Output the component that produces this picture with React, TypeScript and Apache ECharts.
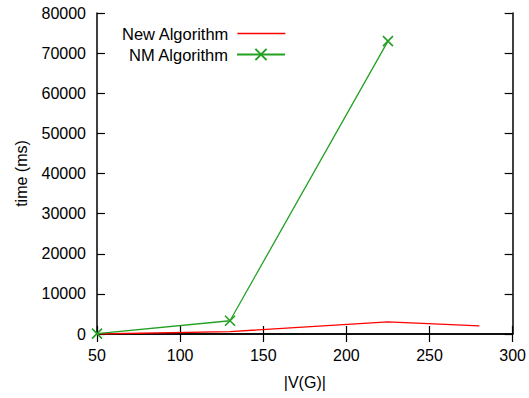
import React, { useEffect, useRef } from "react";
import * as echarts from "echarts";

const newAlgoX = [50, 130, 225, 280];
const newAlgoY = [0, 600, 3000, 2000];
const nmAlgoX = [50, 130, 225];
const nmAlgoY = [100, 3300, 73000];
const seriesNames = ["New Algorithm", "NM Algorithm"];
const xTicks = { min: 50, max: 300, interval: 50 };
const yTicks = { min: 0, max: 80000, interval: 10000 };

const FONT = "'Liberation Sans', Arial, sans-serif";
const RED = "#ff0000";
const GREEN = "#22a022";

export default function App() {
  const ref = useRef<HTMLDivElement>(null);
  useEffect(() => {
    if (!ref.current) return;
    const chart = echarts.init(ref.current, null, { renderer: "svg" });
    const axisLine = { show: true, lineStyle: { color: "#000", width: 1.5 } };
    const tick = { show: true, inside: true, length: 8, lineStyle: { color: "#000", width: 1.2 } };
    const label = { color: "#000", fontSize: 16, fontFamily: FONT };
    const cross = "path://M0,0L10,10M10,0L0,10";
    chart.setOption({
      animation: false,
      backgroundColor: "#fff",
      textStyle: { fontFamily: FONT },
      grid: { left: 97, right: 12, top: 13, bottom: 64, containLabel: false },
      legend: [
        {
          data: [seriesNames[0]],
          orient: "vertical",
          align: "right",
          right: 243,
          top: 25,
          padding: 0,
          itemWidth: 48,
          itemHeight: 14,
          itemStyle: { color: "rgba(0,0,0,0)", borderColor: "rgba(0,0,0,0)", borderWidth: 0 },
          lineStyle: { color: RED, width: 1.3 },
          textStyle: { ...label, fontSize: 16.5, padding: [0, 4, 0, 0] },
          selectedMode: false,
        },
        {
          data: [seriesNames[1]],
          orient: "vertical",
          align: "right",
          right: 243,
          top: 46,
          padding: 0,
          itemWidth: 48,
          itemHeight: 14,
          textStyle: { ...label, fontSize: 16.5, padding: [0, 4, 0, 0] },
          selectedMode: false,
        },
      ],
      xAxis: [
        {
          type: "value",
          ...xTicks,
          position: "bottom",
          name: "|V(G)|",
          nameLocation: "middle",
          nameGap: 40,
          nameTextStyle: { ...label },
          axisLine,
          axisTick: tick,
          axisLabel: { ...label, margin: 13 },
          splitLine: { show: false },
        },
        {
          type: "value",
          ...xTicks,
          position: "top",
          axisLine,
          axisTick: tick,
          axisLabel: { show: false },
          splitLine: { show: false },
        },
      ],
      yAxis: [
        {
          type: "value",
          ...yTicks,
          position: "left",
          name: "time (ms)",
          nameLocation: "middle",
          nameGap: 68,
          nameRotate: 90,
          nameTextStyle: { ...label },
          axisLine,
          axisTick: tick,
          axisLabel: { ...label, margin: 11, formatter: (v: number) => String(v) },
          splitLine: { show: false },
        },
        {
          type: "value",
          ...yTicks,
          position: "right",
          axisLine,
          axisTick: tick,
          axisLabel: { show: false },
          splitLine: { show: false },
        },
      ],
      series: [
        {
          name: seriesNames[0],
          type: "line",
          data: newAlgoX.map((x, i) => [x, newAlgoY[i]]),
          symbol: "none",
          lineStyle: { color: RED, width: 1.3 },
          itemStyle: { color: RED },
        },
        {
          name: seriesNames[1],
          type: "line",
          data: nmAlgoX.map((x, i) => [x, nmAlgoY[i]]),
          symbol: cross,
          symbolSize: 10,
          showAllSymbol: true,
          lineStyle: { color: GREEN, width: 1.3 },
          itemStyle: { color: "none", borderColor: GREEN, borderWidth: 1.6 },
        },
      ],
    });
    return () => chart.dispose();
  }, []);
  return (
    <div
      ref={ref}
      style={{ position: "fixed", left: 0, top: 0, width: 529, height: 398, background: "#fff" }}
    />
  );
}
